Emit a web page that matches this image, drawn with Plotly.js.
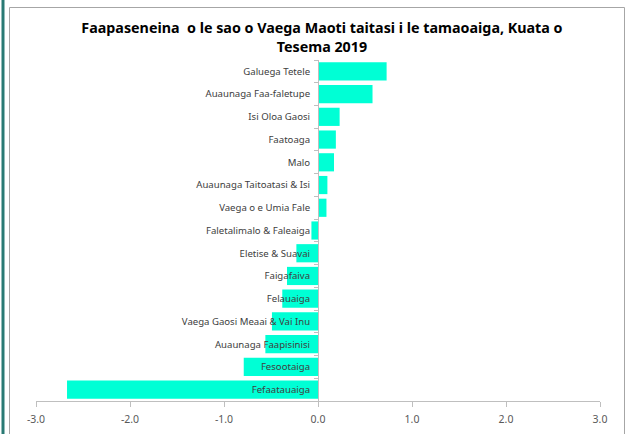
<!DOCTYPE html>
<html>
<head>
<meta charset="utf-8">
<script src="https://cdn.plot.ly/plotly-3.0.1.min.js"></script>
<style>html,body{margin:0;padding:0;background:#fff;}#chart{width:630px;height:434px;}</style>
</head>
<body>
<div id="chart"></div>
<script>
var categories = [
  "Galuega Tetele",
  "Auaunaga Faa-faletupe",
  "Isi Oloa Gaosi",
  "Faatoaga",
  "Malo",
  "Auaunaga Taitoatasi & Isi",
  "Vaega o e Umia Fale",
  "Faletalimalo & Faleaiga",
  "Eletise & Suavai",
  "Faigafaiva",
  "Felauaiga",
  "Vaega Gaosi Meaai & Vai Inu",
  "Auaunaga Faapisinisi",
  "Fesootaiga",
  "Fefaatauaiga"
];
var values = [0.73, 0.58, 0.23, 0.19, 0.17, 0.10, 0.09, -0.07, -0.23, -0.33, -0.38, -0.49, -0.56, -0.79, -2.67];
var xTicks = [-3, -2, -1, 0, 1, 2, 3];
var titleText = "Faapaseneina  o le sao o Vaega Maoti taitasi i le tamaoaiga, Kuata o<br>Tesema 2019";

var FONT = "'Noto Sans', sans-serif";

// plot area pixel geometry
var L = 36, R = 30, T = 60, B = 33, W = 630, H = 434;
var pw = W - L - R, ph = H - T - B;
function px(x){ return (x - L) / pw; }
function py(y){ return (H - B - y) / ph; }

var trace = {
  type: 'bar',
  orientation: 'h',
  y: categories,
  x: values,
  marker: {color: '#00FFD5', line: {width: 0}},
  width: 0.8,
  hoverinfo: 'x+y'
};

var layout = {
  width: W, height: H,
  margin: {l: L, r: R, t: T, b: B},
  paper_bgcolor: '#ffffff',
  plot_bgcolor: 'rgba(0,0,0,0)',
  showlegend: false,
  font: {family: FONT, color: '#404040', size: 10},
  title: {
    text: titleText,
    font: {family: FONT, size: 14.3, color: '#000000', weight: 'bold'},
    xref: 'container', x: 0.511, xanchor: 'center',
    yref: 'container', y: 1 - 33/434, yanchor: 'top'
  },
  xaxis: {
    range: [-3, 3],
    tickvals: xTicks,
    ticktext: xTicks.map(function(v){ return v.toFixed(1); }),
    showgrid: false, zeroline: false,
    showline: true, linecolor: '#bfbfbf', linewidth: 1,
    ticks: 'outside', ticklen: 5, tickcolor: '#bfbfbf',
    ticklabelstandoff: 3,
    tickfont: {family: FONT, size: 10.5, color: '#595959'},
    fixedrange: true
  },
  yaxis: {
    type: 'category',
    autorange: 'reversed',
    anchor: 'free', position: 0.5,
    showgrid: false, zeroline: false,
    showline: true, linecolor: '#bfbfbf', linewidth: 1,
    ticks: 'outside', tickson: 'boundaries', ticklen: 4, tickcolor: '#bfbfbf',
    ticklabelstandoff: 6,
    tickfont: {family: FONT, size: 9.6, color: '#404040'},
    fixedrange: true
  },
  shapes: [
    {type: 'rect', xref: 'paper', yref: 'paper', x0: px(9.5), x1: px(624.5), y0: py(445), y1: py(7.5),
     line: {color: '#a6a6a6', width: 1}, fillcolor: 'rgba(0,0,0,0)', layer: 'below'},
    {type: 'line', xref: 'paper', yref: 'paper', x0: px(3), x1: px(3), y0: py(440), y1: py(-5),
     line: {color: '#2a7a74', width: 3}}
  ]
};

Plotly.newPlot('chart', [trace], layout, {displayModeBar: false, staticPlot: true});
</script>
</body>
</html>
